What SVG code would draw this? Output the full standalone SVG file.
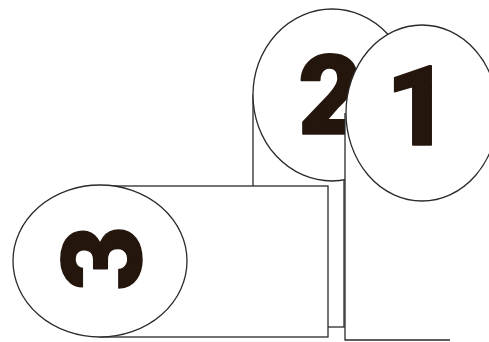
<svg xmlns="http://www.w3.org/2000/svg" width="489" height="342" viewBox="0 0 489 342">
<style>
.sh{fill:#fff;stroke:#2a2a2a;stroke-width:1.3}
.ln{fill:none;stroke:#2a2a2a;stroke-width:1.3}
.num{font-family:Roboto,"Liberation Sans",sans-serif;font-weight:900;font-size:112px;fill:#24160d;stroke:#24160d;stroke-width:1.5;stroke-linejoin:round}
</style>
<rect width="489" height="342" fill="#fff"/>
<g id="node2">
<rect class="sh" x="253" y="95" width="91" height="232"/>
<ellipse class="sh" cx="332" cy="95" rx="79" ry="86"/>
<text class="num" x="298" y="134">2</text>
</g>
<g id="node1">
<rect x="345" y="113" width="150" height="227" fill="#fff"/>
<path class="ln" d="M345 113 V340 H450"/>
<ellipse class="sh" cx="422" cy="113" rx="76" ry="88"/>
<text class="num" x="418" y="145" text-anchor="middle">1</text>
</g>
<g id="node3">
<rect class="sh" x="100" y="186" width="228" height="151"/>
<ellipse class="sh" cx="100" cy="261" rx="87" ry="76"/>
<text class="num" text-anchor="middle" x="0" y="40" transform="translate(101,258) rotate(-90)">3</text>
</g>
</svg>
